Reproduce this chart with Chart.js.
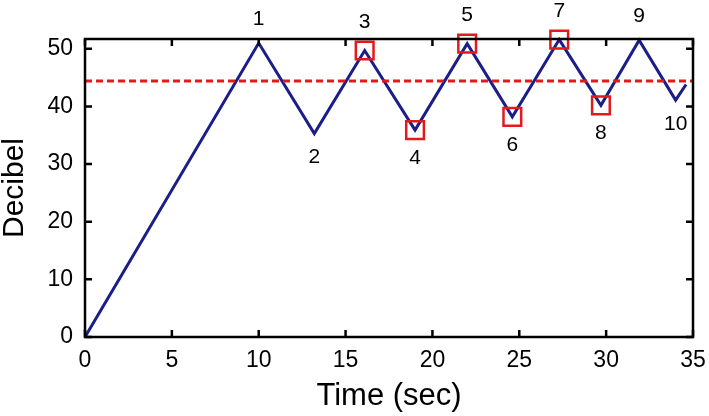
<!DOCTYPE html>
<html><head><meta charset="utf-8">
<script src="https://cdn.jsdelivr.net/npm/chart.js@4"></script>
<style>html,body{margin:0;padding:0;background:#fff}#wrap{width:709px;height:416px}</style>
</head><body><div id="wrap"><canvas id="c" width="709" height="416"></canvas></div>
<script>
// ---- data ----
const timeSec  = [0, 10, 13.2, 16.1, 19.0, 22.0, 24.6, 27.3, 29.7, 31.9, 34.0, 34.6];
const decibel  = [0, 51.0, 35.3, 49.7, 35.9, 50.9, 38.2, 51.6, 40.2, 51.5, 41.1, 43.8];
const pointNames = ['', '1', '2', '3', '4', '5', '6', '7', '8', '9', '10', ''];
const markedIdx = [3, 4, 5, 6, 7, 8];
const thresholdDb = 44.4;
const xTickVals = [0, 5, 10, 15, 20, 25, 30, 35];
const yTickVals = [0, 10, 20, 30, 40, 50];
const xRange = [0, 35];
const yRange = [0, 51.7];
const xTitle = 'Time (sec)';
const yTitle = 'Decibel';

const FONT = "'Liberation Sans', Arial, Helvetica, sans-serif";
const AXIS_W = 2.5, TICK_LEN = 7;

const lineData = timeSec.map((t, i) => ({x: t, y: decibel[i]}));
const markData = markedIdx.map(i => ({x: timeSec[i], y: decibel[i]}));
const threshData = [{x: xRange[0], y: thresholdDb}, {x: xRange[1], y: thresholdDb}];

const framePlugin = {
  id: 'frame',
  afterDatasetsDraw(chart) {
    const {ctx, chartArea: a, scales: {x, y}} = chart;
    ctx.save();
    ctx.strokeStyle = '#000';
    ctx.lineWidth = AXIS_W;
    ctx.lineCap = 'butt';
    ctx.beginPath();
    x.ticks.forEach(t => {
      const px = x.getPixelForValue(t.value);
      ctx.moveTo(px, a.bottom); ctx.lineTo(px, a.bottom - TICK_LEN);
      ctx.moveTo(px, a.top); ctx.lineTo(px, a.top + TICK_LEN);
    });
    y.ticks.forEach(t => {
      const py = y.getPixelForValue(t.value);
      ctx.moveTo(a.left, py); ctx.lineTo(a.left + TICK_LEN, py);
      ctx.moveTo(a.right, py); ctx.lineTo(a.right - TICK_LEN, py);
    });
    ctx.stroke();
    ctx.strokeRect(a.left, a.top, a.right - a.left, a.bottom - a.top);
    // point number labels
    ctx.fillStyle = '#000';
    ctx.font = '21px ' + FONT;
    ctx.textAlign = 'center';
    ctx.textBaseline = 'middle';
    pointNames.forEach((name, i) => {
      if (!name) return;
      const px = x.getPixelForValue(timeSec[i]);
      const py = y.getPixelForValue(decibel[i]);
      const isPeak = decibel[i] > decibel[i - 1];
      const off = markedIdx.includes(i) ? 28 : 24;
      ctx.fillText(name, px, isPeak ? py - off : py + off);
    });
    ctx.restore();
  }
};

new Chart(document.getElementById('c'), {
  type: 'scatter',
  data: {
    datasets: [
      { data: markData, showLine: false, pointStyle: 'rect', pointRadius: 12.5,
        pointBorderColor: '#e3191c', pointBackgroundColor: 'rgba(0,0,0,0)',
        pointBorderWidth: 2.5, pointHoverRadius: 12.5, clip: false, order: 0 },
      { data: lineData, showLine: true, borderColor: '#1b1d88', borderWidth: 3,
        pointRadius: 0, pointHoverRadius: 0, tension: 0, clip: false, order: 2 },
      { data: threshData, showLine: true, borderColor: '#e3191c', borderWidth: 3,
        borderDash: [7, 4], pointRadius: 0, pointHoverRadius: 0, order: 1 }
    ]
  },
  options: {
    responsive: false, animation: false, events: [],
    layout: { padding: { top: 39, right: 16, left: 0, bottom: 0 } },
    plugins: { legend: { display: false }, tooltip: { enabled: false } },
    scales: {
      x: {
        type: 'linear', min: xRange[0], max: xRange[1],
        grid: { display: false, drawTicks: false }, border: { display: false },
        afterBuildTicks(s) { s.ticks = xTickVals.map(v => ({value: v})); },
        ticks: { color: '#000', font: { family: FONT, size: 23 }, padding: 10, maxRotation: 0 },
        title: { display: true, text: xTitle, color: '#000', font: { family: FONT, size: 31, lineHeight: 1 }, padding: { top: 0, bottom: 4 } },
        afterFit(s) { s.height = 79; s.paddingLeft = 0; s.paddingRight = 0; }
      },
      y: {
        type: 'linear', min: yRange[0], max: yRange[1],
        grid: { display: false, drawTicks: false }, border: { display: false },
        afterBuildTicks(s) { s.ticks = yTickVals.map(v => ({value: v})); },
        ticks: { color: '#000', font: { family: FONT, size: 23 }, padding: 12 },
        title: { display: true, text: yTitle, color: '#000', font: { family: FONT, size: 30, lineHeight: 1 }, padding: { top: 0, bottom: 0 } },
        afterFit(s) { s.width = 85; s.paddingTop = 0; s.paddingBottom = 0; }
      }
    }
  },
  plugins: [framePlugin]
});
</script>
</body></html>
